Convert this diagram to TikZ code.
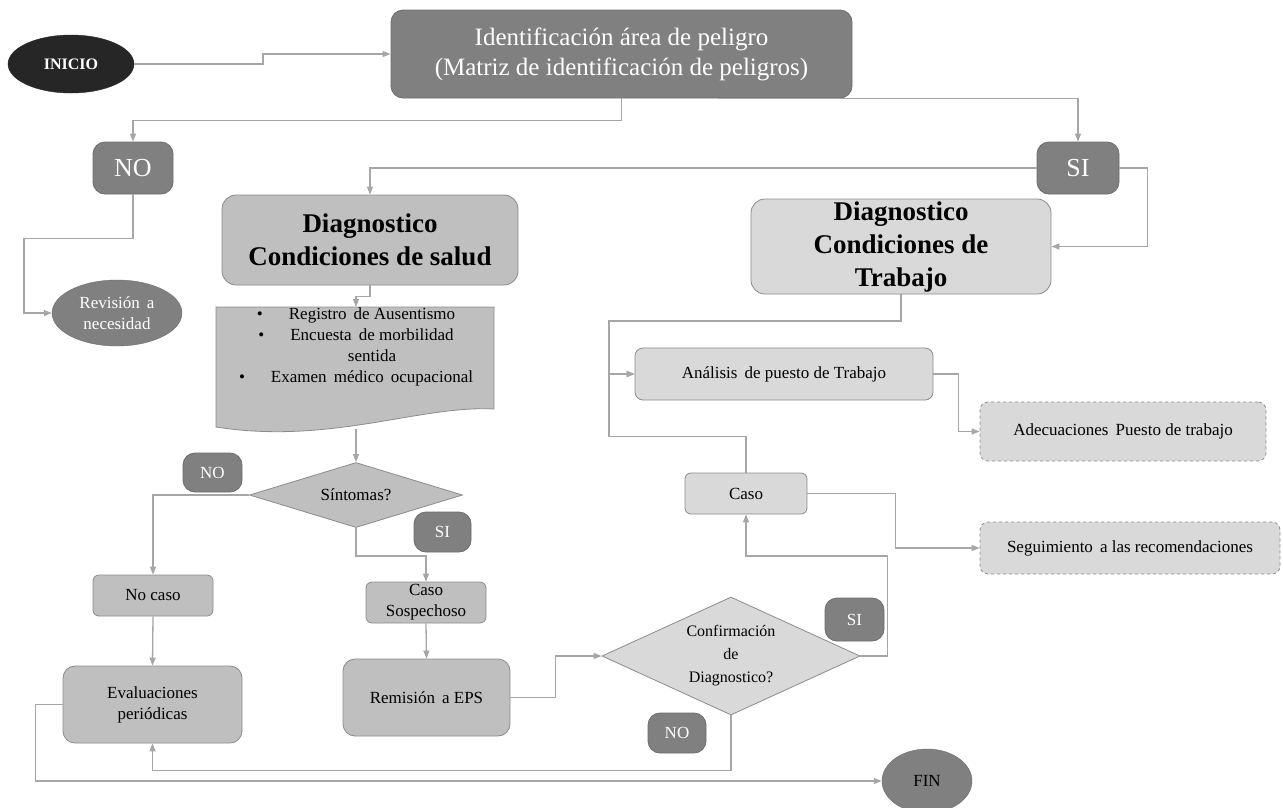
\documentclass[tikz,border=0pt]{standalone}
\usepackage{fontspec}
\setmainfont{Liberation Serif}
\usetikzlibrary{shapes.geometric,arrows.meta}
\definecolor{negro}{HTML}{262626}
\definecolor{oscuro}{HTML}{808080}
\definecolor{medio}{HTML}{BFBFBF}
\definecolor{claro}{HTML}{D9D9D9}
\definecolor{linea}{HTML}{A6A6A6}
\definecolor{borde}{HTML}{8C8C8C}
\tikzset{
  conector/.style={draw=linea,line width=1.3pt},
  flecha/.style={conector,-{Triangle[length=8pt,width=6pt]}},
  caja/.style={rectangle,rounded corners=#1,draw=borde,line width=0.8pt,inner sep=0pt,align=center},
  caja/.default=8pt,
  etiqueta/.style={caja=12pt,fill=oscuro,draw=oscuro!85!black,text=white,font=\fontsize{17}{20}\selectfont},
  texto/.style={font=\fontsize{17}{21}\selectfont}
}
\begin{document}
\begin{tikzpicture}[x=1pt,y=-1pt]
\useasboundingbox[fill=white] (0,0) rectangle (1283,807);
\node[ellipse,fill=negro,draw=negro,minimum width=126,minimum height=58,text=white,font=\fontsize{16}{18}\selectfont\bfseries] (v1) at (71,64) {INICIO};
\node[caja=12pt,fill=oscuro,draw=oscuro!85!black,text=white,minimum width=461,minimum height=88,font=\fontsize{25}{30}\selectfont] (v2) at (621.5,54) {Identificación área de peligro\\(Matriz de identificación de peligros)};
\node[etiqueta,minimum width=80,minimum height=52,font=\fontsize{26}{28}\selectfont] (v3) at (133,168) {NO};
\node[etiqueta,minimum width=82,minimum height=52,font=\fontsize{26}{28}\selectfont] (v4) at (1078,168) {SI};
\node[ellipse,fill=oscuro,draw=oscuro!85!black,minimum width=130,minimum height=66,inner sep=0pt,align=center,text=white,texto] (v5) at (117,313) {Revisión\, a\\necesidad};
\node[caja=14pt,fill=medio,minimum width=296,minimum height=90,font=\fontsize{27}{33}\selectfont\bfseries] (v6) at (370,240) {Diagnostico\\Condiciones de salud};
\node[caja=14pt,fill=claro,minimum width=300,minimum height=95,font=\fontsize{27}{33}\selectfont\bfseries] (v7) at (901,246.5) {Diagnostico\\Condiciones de\\Trabajo};
\draw[fill=medio,draw=borde,line width=0.8pt] (216,307) -- (494,307) -- (494,409) .. controls (420,405) and (330,445) .. (216,427) -- cycle;
\coordinate (v8a) at (356,307);
\coordinate (v8b) at (356,429);
\node[texto,align=center] (v8) at (372,347) {\llap{\textbullet\hspace{26pt}}Registro\, de Ausentismo\\\llap{\textbullet\hspace{26pt}}Encuesta\, de morbilidad\\sentida\\\llap{\textbullet\hspace{26pt}}Examen\, médico\, ocupacional};
\node[diamond,aspect=3.3,fill=medio,draw=borde,line width=0.8pt,inner sep=0pt,minimum width=213,minimum height=65,texto] (v9) at (356,495) {Síntomas?};
\node[etiqueta,minimum width=59,minimum height=39] (v10) at (212.5,472.5) {NO};
\node[etiqueta,minimum width=57,minimum height=40] (v11) at (442.5,532) {SI};
\node[caja=6pt,fill=medio,minimum width=120,minimum height=41,texto] (v12) at (153,595.5) {No caso};
\node[caja=6pt,fill=medio,minimum width=120,minimum height=41,texto] (v13) at (426,602.5) {Caso\\Sospechoso};
\node[caja=12pt,fill=medio,minimum width=179,minimum height=77,texto] (v14) at (152.5,704.5) {Evaluaciones\\periódicas};
\node[caja=12pt,fill=medio,minimum width=167,minimum height=77,texto] (v15) at (426.5,697.5) {Remisión\, a EPS};
\node[diamond,aspect=2.2,fill=claro,draw=borde,line width=0.8pt,inner sep=0pt,minimum width=258,minimum height=118,align=center,font=\fontsize{16}{23}\selectfont] (v16) at (731,656) {Confirmación\\de\\Diagnostico?};
\node[etiqueta,minimum width=59,minimum height=43] (v17) at (854.5,619.5) {SI};
\node[etiqueta,minimum width=58,minimum height=40] (v18) at (677,733) {NO};
\node[ellipse,fill=oscuro,draw=oscuro!85!black,minimum width=90,minimum height=64,inner sep=0pt,texto] (v19) at (927,781) {FIN};
\node[caja=6pt,fill=claro,minimum width=122,minimum height=41,texto] (v20) at (746,493.5) {Caso};
\node[caja=8pt,fill=claro,minimum width=298,minimum height=52,texto] (v21) at (784,374) {Análisis\, de puesto de Trabajo};
\node[caja=8pt,fill=claro,dashed,minimum width=286,minimum height=59,texto] (v22) at (1123,431.5) {Adecuaciones\, Puesto de trabajo};
\node[caja=8pt,fill=claro,dashed,minimum width=300,minimum height=52,texto] (v23) at (1130,548) {Seguimiento\, a las recomendaciones};
\draw[flecha] (v1.east) -- (263,64) |- (v2.west);
\draw[flecha] (v2.south) -- ++(0,22) -| (v3.north);
\draw[flecha] ([xshift=-134pt]v2.south east) -| (v4.north);
\draw[flecha] (v3.south) -- ++(0,44) -| (24,313) -- (v5.west);
\draw[flecha] (v4.west) -| (v6.north);
\draw[flecha] (v4.east) -- ++(28,0) |- (v7.east);
\draw[flecha] (v6.south) -- ++(0,11) -| (v8a);
\draw[flecha] (v8b) -- (v9.north);
\draw[flecha] (v9.west) -| (v12.north);
\draw[flecha] (v9.south) -- ++(0,28) -| (v13.north);
\draw[flecha] (v12.south) -- (v14.north);
\draw[flecha] (v13.south) -- (v15.north);
\draw[flecha] (v15.east) -- ++(45,0) |- (v16.west);
\draw[flecha] (v16.east) -- ++(27,0) -- ++(0,-100) -| (v20.south);
\draw[flecha] (v16.south) -- ++(0,55) -| (v14.south);
\draw[flecha] (v14.west) -- ++(-27,0) |- (v19.west);
\draw[flecha] (v20.north) -- ++(0,-36) -| (609,374) -- (v21.west);
\draw[flecha] (v7.south) -- ++(0,26.5) -| (609,374) -- (v21.west);
\draw[flecha] (v21.east) -- ++(25,0) |- (v22.west);
\draw[flecha] (v20.east) -- ++(88,0) |- (v23.west);
\end{tikzpicture}
\end{document}
